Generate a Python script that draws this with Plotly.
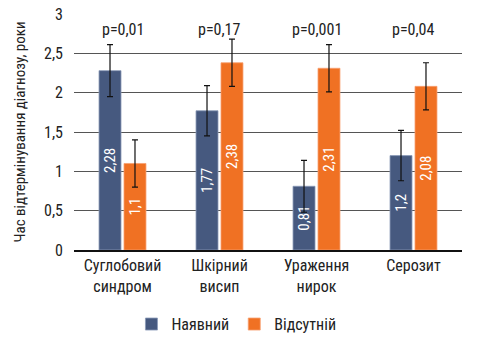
import plotly.graph_objects as go

categories = ["Суглобовий<br>синдром", "Шкірний<br>висип", "Ураження<br>нирок", "Серозит"]
present = [2.28, 1.77, 0.81, 1.2]
absent = [1.1, 2.38, 2.31, 2.08]
present_err = [0.33, 0.32, 0.33, 0.32]
absent_err = [0.3, 0.3, 0.3, 0.3]
present_labels = ["2,28", "1,77", "0,81", "1,2"]
absent_labels = ["1,1", "2,38", "2,31", "2,08"]
p_values = ["p=0,01", "p=0,17", "p=0,001", "p=0,04"]
tick_vals = [0, 0.5, 1, 1.5, 2, 2.5, 3]
tick_text = ["0", "0,5", "1", "1,5", "2", "2,5", "3"]

FONT = "Liberation Sans Narrow, Arial Narrow, Roboto Condensed, Liberation Sans, sans-serif"
BLUE = "#46597F"
ORANGE = "#F07123"

fig = go.Figure()
fig.add_trace(go.Bar(
    x=categories, y=present, name="Наявний",
    marker=dict(color=BLUE, line=dict(color="#8A9AB8", width=0.8)),
    error_y=dict(type="data", array=present_err, color="#111", thickness=1.2, width=3),
    text=present_labels, textposition="inside", insidetextanchor="middle",
    textangle=-90, textfont=dict(color="white", size=15, family=FONT),
))
fig.add_trace(go.Bar(
    x=categories, y=absent, name="Відсутній",
    marker=dict(color=ORANGE, line=dict(color="#F7A070", width=0.8)),
    error_y=dict(type="data", array=absent_err, color="#111", thickness=1.2, width=3),
    text=absent_labels, textposition="inside", insidetextanchor="middle",
    textangle=-90, textfont=dict(color="white", size=15, family=FONT),
))

for c, p in zip(categories, p_values):
    fig.add_annotation(x=c, y=2.8, text=p, showarrow=False,
                       font=dict(size=16, color="#222", family=FONT))

fig.update_layout(
    width=478, height=343,
    margin=dict(l=74, r=16, t=14, b=93, autoexpand=False),
    paper_bgcolor="white", plot_bgcolor="white",
    barmode="group", bargap=0.485, bargroupgap=0.12,
    font=dict(family=FONT, size=16, color="#222"),
    showlegend=True,
    legend=dict(orientation="h", x=0.275, xanchor="left", xref="container",
                y=0.055, yanchor="middle", yref="container",
                font=dict(size=16, family=FONT), itemwidth=30, traceorder="normal"),
    uniformtext=dict(mode="show", minsize=15),
)
fig.update_xaxes(showline=True, linecolor="#111", linewidth=1.5, ticks="",
                 tickfont=dict(size=16, family=FONT, color="#222"))
fig.update_yaxes(range=[0, 3], tickvals=tick_vals, ticktext=tick_text,
                 showgrid=True, gridcolor="#555", gridwidth=1.3, zeroline=False,
                 showline=False, ticks="", ticklabelstandoff=10,
                 tickfont=dict(size=16, family=FONT, color="#222"),
                 title=dict(text="Час відтермінування діагнозу, роки", standoff=14,
                            font=dict(size=15, family=FONT, color="#222")))

fig.write_html("out.html")
